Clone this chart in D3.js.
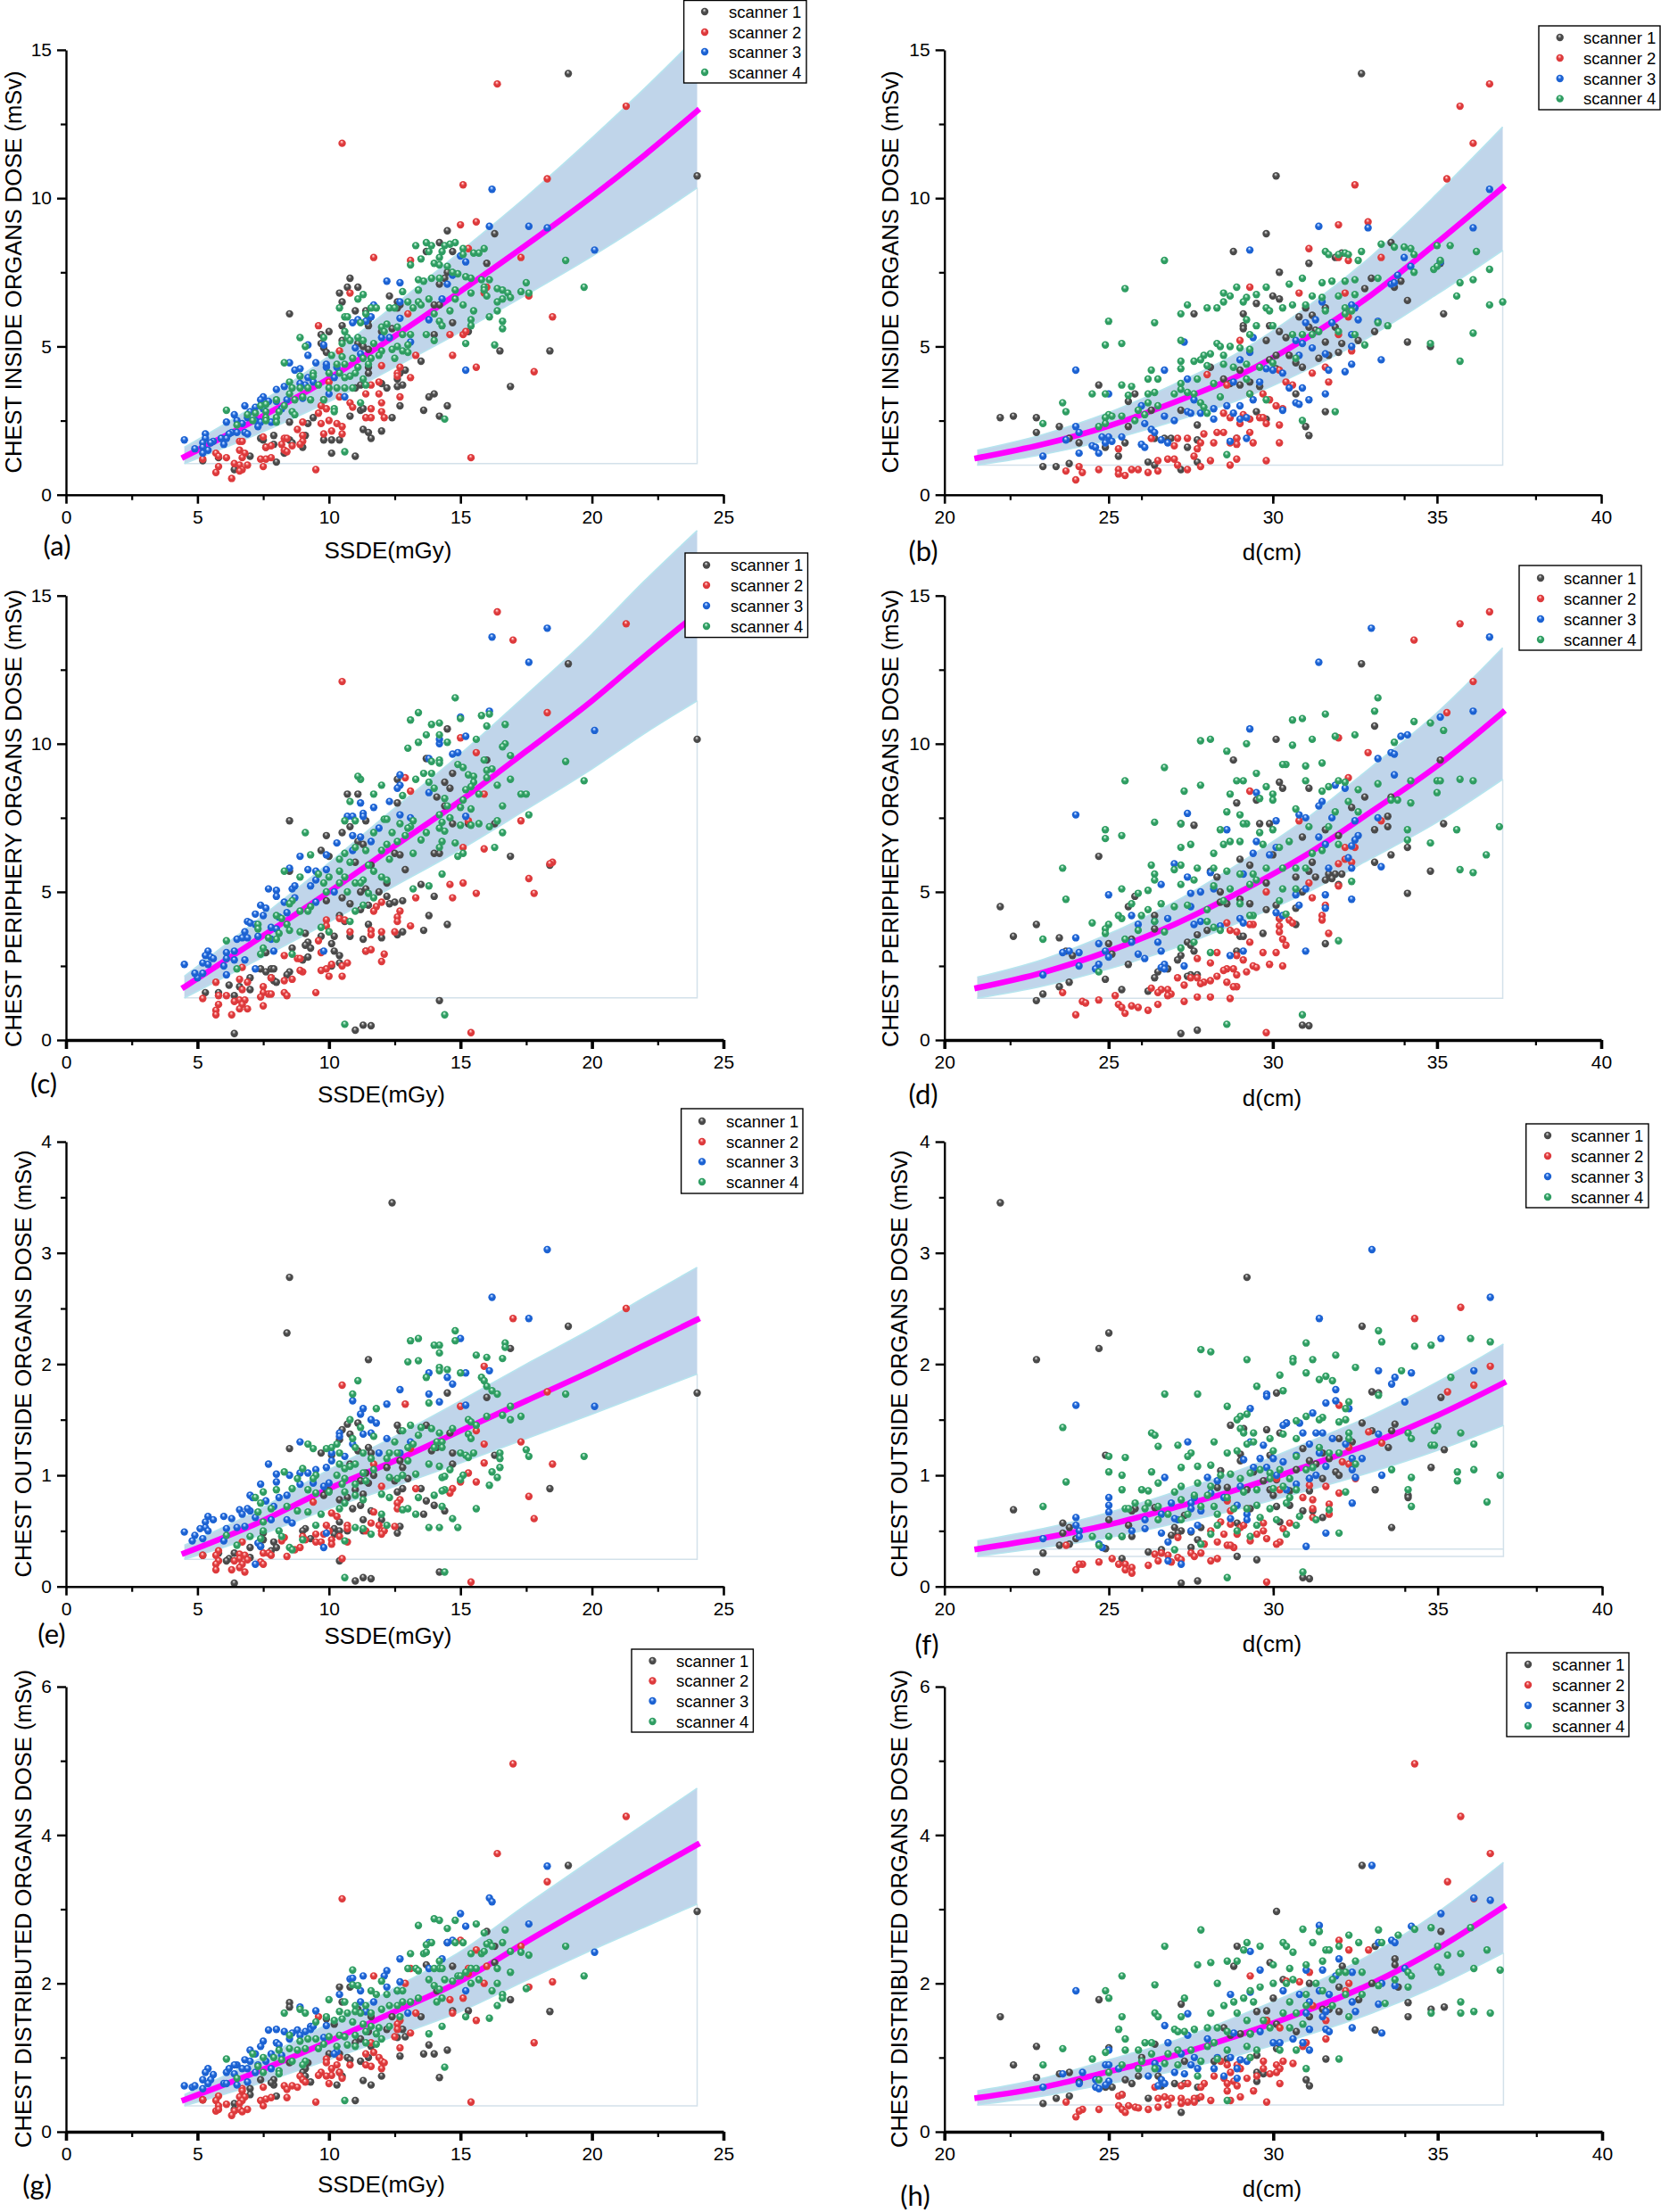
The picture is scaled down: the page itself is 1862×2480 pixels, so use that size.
<!DOCTYPE html>
<html>
<head>
<meta charset="utf-8">
<script src="https://cdnjs.cloudflare.com/ajax/libs/d3/7.8.5/d3.min.js"></script>
<style>
html,body{margin:0;padding:0;background:#fff}
svg{display:block}
text{font-family:"Liberation Sans",Arial,sans-serif;fill:#000}
</style>
</head>
<body>
<svg></svg>
<script>
let scanners = ["scanner 1","scanner 2","scanner 3","scanner 4"]
let scannerColors = [["#a8a8a8","#4a4a4a"],["#ff9c9c","#dd3a3c"],["#8fbcff","#1c62d2"],["#9fe0bc","#2f9d62"]]

// fit nodes
let xNodesS = [4.5,7,10,12.5,15,17.5,20,22,24]
let xNodesD = [21,23,25,27,29,31,33,35,37]

let aLine = [1.28,2.42,3.92,5.35,6.86,8.42,10.05,11.45,12.94]
let aUp = [1.6,2.9,4.68,6.4,8.2,10.05,12.03,13.7,15.45]
let aLow = [1.05,1.94,3.14,4.3,5.49,6.74,8.04,9.16,10.35]
let bLine = [1.24,1.7,2.32,3.12,4.04,5.27,6.74,8.5,10.36]
let bUp = [1.5,2.03,2.77,3.73,4.83,6.3,8.05,10.15,12.4]
let bLow = [1,1.36,1.85,2.48,3.21,4.19,5.36,6.76,8.24]
let cLine = [1.79,3.23,5,6.55,8.08,9.75,11.45,12.95,14.4]
let cUp = [2.15,3.86,5.98,7.83,9.66,11.65,13.7,15.5,17.2]
let cLow = [1.42,2.57,3.98,5.2,6.43,7.78,9.15,10.35,11.45]
let dLine = [1.76,2.28,3,3.9,5,6.24,7.71,9.25,11.06]
let dUp = [2.12,2.72,3.58,4.66,5.98,7.46,9.22,11.05,13.24]
let dLow = [1.41,1.82,2.4,3.1,3.98,4.96,6.13,7.35,8.8]
let eLine = [.3,.54,.88,1.13,1.4,1.67,1.94,2.17,2.4]
let eUp = [.37,.65,1.05,1.35,1.67,2,2.32,2.6,2.87]
let eLow = [.245,.43,.7,.9,1.11,1.33,1.55,1.73,1.91]
let fLine = [.337,.435,.556,.71,.88,1.08,1.29,1.54,1.83]
let fUp = [.41,.52,.665,.85,1.05,1.29,1.54,1.84,2.18]
let fLow = [.27,.35,.44,.565,.7,.86,1.03,1.225,1.45]
let gLine = [.43,.77,1.22,1.62,2.03,2.56,3.07,3.47,3.87]
let gUp = [.5,.92,1.46,1.94,2.43,3.06,3.67,4.15,4.63]
let gLow = [.35,.61,.97,1.29,1.62,2.04,2.45,2.76,3.07]
let hLine = [.457,.6,.81,1.03,1.31,1.63,2,2.47,3.03]
let hUp = [.55,.72,.97,1.23,1.57,1.95,2.4,2.96,3.63]
let hLow = [.36,.48,.65,.82,1.04,1.3,1.6,1.97,2.41]

// panel a
let aS1 = [[19.1,14.2],[24,10.75],[16.3,8.8],[14.5,8.9],[14.2,8.5],[13.7,8.2],[14.7,8.2],[16,7.8],[14.5,7.5],[14.4,7.3],[14.2,7.1],[10.8,7.3],[10.7,7],[11.1,7],[10.4,6.8],[10.5,6.5],[12.3,6.7],[12.6,6.5],[12.7,6.4],[12.6,6.3],[14,6.4],[14.2,6.4],[11.4,6.2],[11.5,6],[11,6.2],[8.5,6.1],[11.5,5.7],[11.5,5.9],[12.4,5.6],[14.7,5.8],[10.5,5.7],[10,5.5],[9.7,5.4],[12,5.5],[15.3,5.5],[14,5.4],[10.5,5.2],[9.7,5.1],[9.8,4.95],[11.1,5.1],[11.3,5],[11.5,4.9],[16.5,4.85],[18.4,4.85],[9.9,4.8],[13.5,4.5],[11.5,4.3],[11.5,4.1],[12.9,4.2],[12.7,4.1],[12.6,3.9],[12.8,3.7],[12.6,3.65],[12.2,3.6],[12,3.75],[16.9,3.65],[11,3.6],[11.2,3.7],[14,3.4],[13.8,3.3],[14.5,3],[12.7,3],[13.6,2.85],[11.2,2.85],[11.3,2.9],[14.2,2.65],[12.4,2.6],[10.8,2.65],[9.4,2.6],[8.5,2.45],[9.2,2.4],[11.3,2.2],[11.5,2.1],[12,2.15],[11.6,1.9],[9.1,2],[7.9,2],[7.4,1.9],[7.5,1.85],[7.9,1.7],[8.5,1.85],[8.6,1.75],[9.8,1.85],[10.1,1.85],[10.4,1.85],[9,1.6],[7.6,1.6],[8.3,1.4],[10.1,1.4],[11,1.3],[7,1.3],[5.8,1.25],[5.2,1.15],[8,1.1],[6.4,.85]]
let aS2 = [[16.4,13.85],[21.3,13.1],[10.5,11.85],[18.3,10.65],[15.1,10.45],[15.6,9.2],[15,9.1],[15.3,8.3],[11.7,8],[13.1,7.9],[17.3,8],[16,7],[10.8,6.8],[15.9,6.8],[17.6,6.7],[13,6.1],[18.5,6],[9.6,5.7],[15.1,5.4],[14.6,5.4],[15.2,5.5],[10.4,4.85],[13.3,4.7],[14.7,4.7],[12.7,4.3],[15.6,4.3],[12,4.35],[17.8,4.15],[12.6,4.1],[12.6,4],[13.1,3.95],[10,3.8],[11.6,3.7],[11.9,3.8],[11.4,3.4],[11.9,3.4],[12.7,3.3],[10.4,3.3],[9.8,3.2],[10.8,3.1],[12,3.1],[9.7,3],[10.9,2.95],[9.9,2.9],[11.6,2.9],[12,2.8],[9.6,2.75],[10,2.5],[11.4,2.6],[11.6,2.6],[12.1,2.6],[9,2.45],[9.7,2.4],[10.3,2.4],[10.5,2.3],[10.1,2.15],[9.8,2.05],[10.5,2.05],[8.8,2.2],[9,2],[8.3,1.9],[8.4,1.9],[7.5,1.95],[9,1.8],[8.9,1.7],[8.2,1.7],[8.6,1.65],[8.3,1.5],[7.8,1.65],[7.6,1.6],[6.6,1.8],[6.7,1.8],[6.6,1.5],[6.8,1.4],[8.4,1.45],[5.7,1.4],[5.8,1.3],[6.1,1.25],[5.2,1.2],[6.7,1.25],[7.4,1.2],[7.6,1.2],[7.8,1.25],[15.4,1.25],[5.8,.95],[6.4,1.05],[6.6,1],[6.9,1],[7.5,.95],[9.5,.85],[6.7,.85],[5.7,.75],[6.3,.55],[6.6,.8]]
let aS3 = [[16.2,10.3],[16.1,9.05],[17.6,9.05],[18.3,9],[20.1,8.25],[15,8.05],[15.2,7.85],[14.5,7.1],[12.2,7.2],[12.7,7.15],[14.7,7.4],[14.3,6.6],[12.7,6.5],[11.7,6.4],[11.1,5.9],[11.6,6],[12.7,5.95],[13.8,5.9],[10.9,5.8],[11.4,5.85],[12,5.3],[12.3,5.3],[13.1,5.15],[9.2,5.05],[9.8,5.05],[11,4.95],[9.2,4.7],[11.2,4.75],[8.5,4.45],[9.5,4.45],[9.9,4.3],[9.9,4.4],[8.9,4.25],[8.7,4.2],[10.3,4.3],[15.2,4.2],[10.2,3.95],[9.2,3.95],[9.4,3.8],[9.1,3.7],[8.9,3.75],[8.3,3.65],[8,3.55],[10,3.4],[10.6,3.3],[9,3.25],[8.4,3.2],[8,3.15],[7.5,3.3],[7.4,3.2],[7.7,3.15],[6.8,3],[7.2,2.95],[7.5,2.9],[8.2,2.9],[7,2.8],[6.4,2.7],[6.9,2.6],[7.2,2.5],[7.4,2.45],[7.8,2.45],[6.5,2.5],[6.1,2.45],[6.7,2.4],[7.3,2.3],[6.3,2.1],[6.5,2.1],[6.8,2.1],[6.9,2.05],[6.2,2.05],[5.9,1.9],[6.1,1.9],[5.3,2.05],[5.3,1.9],[5.6,1.8],[5.5,1.75],[4.5,1.85],[5.2,1.75],[4.9,1.55],[6,1.7],[5.2,1.6],[5.4,1.5],[5.2,1.4]]
let aS4 = [[19,7.9],[19.7,7],[17.5,7.15],[17.6,6.8],[17.3,6.85],[16.4,6.95],[16.6,6.9],[16.8,6.8],[16.9,6.65],[16.6,6.6],[16.4,6.5],[16.1,7.25],[15.8,7.25],[15.4,7.3],[15.2,7.35],[14.9,7.45],[14.7,7.5],[14.2,7.3],[13.9,7.3],[13.4,7.25],[13.6,7.2],[13.1,7.75],[14,7.8],[14.2,7.75],[14.5,7.7],[13.5,7.95],[14.2,8],[14.3,8.2],[13.8,8.2],[15.9,8.3],[15.5,8.15],[15.7,8.15],[15.1,8.3],[15.1,8.1],[13.3,8.4],[13.7,8.5],[13.9,8.4],[14.4,8.4],[14.6,8.45],[14.8,8.5],[15.9,7],[15.9,6.9],[16,6.7],[15.4,6.8],[14.8,6.9],[14.8,6.6],[15.1,6.4],[14.6,6.2],[15.5,6.2],[15.4,5.9],[15.4,5.7],[16.1,6],[16.6,5.85],[16.6,5.6],[16.4,6.2],[15.2,5.1],[16.3,5.05],[13.4,6.9],[13.8,6.6],[13.4,6.5],[13,6.5],[13.2,6.3],[13.5,6.4],[12.8,6.85],[12.3,6.3],[12.5,6.3],[14,6.1],[14.2,5.85],[14.3,5.7],[13.7,5.4],[14,5.2],[13.1,5.4],[12.8,5.4],[11.1,6.6],[11.3,6.75],[10.4,6.3],[11.6,6.3],[11.8,6.3],[11.4,6.1],[10.6,6],[10.7,6],[11.2,5.8],[12.2,5.75],[12.6,5.65],[12,5.65],[12.1,5.5],[8.9,5.3],[9.1,5],[9.8,5.3],[10.6,5.5],[10.7,5.3],[10.5,5.1],[10.8,5.2],[11.1,5.3],[11.3,5.2],[11.7,5.1],[12.6,5],[13,5.05],[12.4,4.9],[12,4.85],[12.8,4.85],[13,4.8],[11.9,4.7],[11.6,4.6],[11.3,4.6],[12.5,4.6],[10.1,4.7],[10.5,4.65],[10.9,4.6],[10.3,4.4],[10.6,4.4],[11.1,4.3],[11.5,4.4],[8.3,4.45],[9.4,4.1],[8.9,4],[8.5,3.8],[9.4,4],[10,4.1],[10.4,4.1],[10.6,3.95],[10.8,4],[11,4.1],[11.3,3.9],[11.4,3.7],[10.9,3.6],[10.6,3.6],[10.3,3.6],[10,3.6],[9.6,3.7],[9.2,3.6],[8.9,3.6],[8.6,3.6],[8.5,3.4],[8.7,3.2],[9,3.3],[9.3,3.2],[9.8,3.2],[10.2,2.9],[11.2,3.1],[8.3,3],[8,3.2],[7.6,3.05],[7.4,3],[7.6,2.8],[7.2,2.75],[7.6,2.6],[6.9,2.7],[7.1,2.5],[8.1,2.8],[8,2.6],[8,2.45],[8.6,2.8],[8.7,2.7],[6.1,2.85],[6.5,2.35],[7.6,2.5],[10.2,2.8],[14.4,2.55],[10.6,1.45]]

// panel b
let bS1 = [[32.7,14.2],[30.1,10.75],[29.8,8.8],[28.8,8.2],[33.6,8.5],[32.1,8.15],[31.9,8],[31.1,7.8],[30.2,7.5],[33,7.3],[33.9,7.2],[33.7,7],[32.8,6.95],[35.1,7.8],[34.1,6.55],[30,6.7],[30.2,6.6],[29.5,6.45],[31,6.3],[31.6,6.3],[29.1,6.1],[27.6,6.1],[35.2,6.1],[30.8,6],[31.2,6.05],[29.1,5.7],[29.1,5.6],[29.9,5.7],[31.1,5.65],[31.3,5.55],[31.9,5.65],[33.1,5.5],[29.8,5.2],[30.2,5.5],[30.4,5.3],[31.6,5.15],[32.1,5.1],[32.6,5.2],[34.1,5.15],[34.8,5],[30.1,4.7],[30.5,4.7],[31.4,4.6],[31.7,4.7],[32,4.8],[29.9,4.55],[30.7,4.45],[30.9,4.3],[28.1,4.3],[29,4.2],[30.1,4.25],[28.5,3.9],[28.7,3.75],[29,3.7],[29.3,3.8],[29.6,3.65],[24.7,3.7],[25.8,3.4],[25.6,3.15],[26.3,2.85],[27.2,2.85],[29.5,2.8],[31.6,2.8],[30.7,3.4],[29.8,2.55],[31,2.3],[21.7,2.6],[22.1,2.65],[22.8,2.6],[27.7,2.35],[25.6,2.3],[23.5,2.3],[22.8,2.1],[23.8,1.9],[24.1,1.75],[24.9,1.6],[25.3,1.3],[25.5,1.75],[26.4,1.9],[26.7,1.9],[26.9,1.9],[27.7,1.85],[28.9,1.9],[31.1,2],[26.2,1.1],[26.4,1],[27.4,1.6],[27.7,1.1],[23.8,1.05],[23,.95],[23.4,.95],[27.2,.85]]
let bS2 = [[36.6,13.85],[35.7,13.1],[36.1,11.85],[35.3,10.65],[32.5,10.45],[32.9,9.2],[32,9.1],[31.1,8.3],[33.3,8],[32,8],[32.3,7.9],[29.3,7],[30.8,6.8],[32.2,6.8],[32.3,6],[32,5.4],[29,5.2],[32.4,4.85],[31.6,4.3],[30.2,4.2],[31.2,4.1],[28,4.05],[28.6,3.7],[31.7,3.8],[30.4,3.8],[30.6,3.7],[29.3,3.4],[29.7,3.4],[29.9,3.2],[30.1,3],[30.3,2.9],[29.1,2.7],[29.3,2.55],[29.6,2.6],[28.5,2.75],[28.7,2.6],[29.7,2.6],[29,2.4],[29.8,2.4],[30.2,2.35],[28.5,2.1],[28.3,2.1],[27.9,2.05],[29.3,2.1],[28.9,1.9],[27.4,1.9],[26.3,1.9],[27.1,1.9],[27.8,1.75],[28.2,1.75],[28.7,1.75],[28.9,1.7],[29.4,1.75],[30.2,1.75],[27,1.65],[27.7,1.55],[25.3,1.55],[27.6,1.3],[28.1,1.15],[28.9,1.2],[29.8,1.15],[26.5,1.15],[26.8,1.2],[27,1.2],[27.4,.85],[27.1,1],[27.8,.95],[28.7,1],[24.1,.95],[24.7,.85],[25.3,.85],[25.7,.85],[25.9,.85],[23.7,.8],[24.2,.75],[25.3,.7],[25.5,.65],[26.2,.75],[26.5,.8],[24,.5]]
let bS3 = [[36.6,10.3],[31.4,9.05],[36.1,9],[32.9,9],[29.3,8.25],[34,8],[35.1,7.85],[34.2,7.7],[33.8,7.4],[33.6,7.1],[33.7,7.15],[31.5,6.5],[32.5,6.3],[32.4,6.4],[31,5.8],[31.3,5.9],[32.6,5.9],[33.2,5.85],[31.8,5.8],[32.4,5.4],[30.7,5.2],[30.9,5.1],[29.4,5.3],[27.3,5.15],[31.2,4.95],[32.4,5],[29.3,4.8],[30.8,4.7],[31.6,4.75],[26.7,4.2],[24,4.2],[29,4.55],[29.8,4.25],[30,4.2],[30.3,4.1],[31.7,4.2],[32.2,4.15],[32.4,4.4],[33.3,4.55],[27.4,3.9],[28.8,3.8],[29.6,3.8],[30.5,3.6],[30.9,3.6],[31.6,3.4],[25,3.4],[27.6,3.2],[28.2,2.9],[28.6,3],[29,3],[29.4,3.2],[30.7,3.1],[31.1,3.2],[30.8,3.05],[26,3],[27.4,2.8],[27.8,2.75],[28.8,2.75],[29.2,2.6],[29,2.55],[30.3,2.85],[26.7,2.65],[27.5,2.75],[28.2,2.55],[27,2.5],[26.1,2.4],[26.3,2.2],[26.4,2.1],[24,2.3],[24.1,2.1],[24.8,1.95],[25,1.95],[25.1,1.8],[25.4,1.95],[24.5,1.65],[24.9,1.75],[26.6,1.85],[26.8,1.75],[28.7,1.8],[29.2,1.9],[26,1.7],[24.6,1.6],[24.7,1.4],[26.1,1.6],[23.7,1.85],[24.1,1.4],[23,1.3]]
let bS4 = [[26.7,7.9],[25.5,6.95],[37,6.5],[36.6,6.4],[36.1,5.45],[35.7,4.5],[34.8,5.1],[35.6,6.7],[35.7,7.15],[36.6,7.6],[36.1,7.25],[36.2,8.2],[35.4,8.4],[35,8.4],[34.3,7.5],[34.9,7.6],[35,7.7],[35.1,7.9],[34.2,8.3],[34.3,8.1],[34,8.35],[33.3,8.45],[33.7,8.35],[32.7,8.2],[32.2,8.15],[31.6,8.2],[31.7,8.1],[32,8.1],[32.3,8.1],[32.6,7.9],[33.2,7.3],[32.5,7.25],[32.2,7.2],[31.8,7.2],[31.5,7.15],[30.9,7.3],[30.5,7.1],[29.8,7],[28.9,7],[28.5,6.8],[28.7,6.7],[29.2,6.65],[29.5,6.75],[28.5,6.5],[29.1,6.5],[29.8,6.3],[29.9,6.2],[30.3,6.3],[30.6,6.4],[31,6.4],[31.2,6.7],[31.5,6.65],[31.6,6.2],[32,6.7],[32.2,6.3],[32.5,6.75],[32.4,6.2],[32.2,6.1],[33.2,5.8],[33.5,5.7],[32.5,5.4],[32.8,5.05],[27.2,6.1],[27.4,6.4],[28,6.3],[28.3,6.3],[29.2,5.9],[29.5,5.7],[29.3,5.4],[30,5.7],[30.6,5.4],[30.9,5.4],[31.2,5.4],[31.4,5.5],[32,5.5],[26.4,5.8],[25,5.85],[27.2,5.2],[25.4,5.1],[24.9,5.05],[28.3,5.1],[28.4,5],[28.7,5],[29,4.95],[29.3,4.9],[28.5,4.7],[28.1,4.75],[27.9,4.7],[27.6,4.5],[27.8,4.55],[27.2,4.5],[27.2,4.25],[28,4.35],[28.5,4.4],[28.8,4.3],[29.2,4.4],[29.6,4.3],[30,4.45],[30.7,4.6],[26.2,3.9],[26.5,3.9],[26.3,4.2],[27.7,3.9],[28.2,3.75],[29.2,3.9],[27.2,3.75],[27.2,3.55],[27.4,3.45],[27,3.4],[26.4,3.45],[26.2,3.4],[25.7,3.65],[25.4,3.7],[25.6,3.35],[24.9,3.4],[24.5,3.4],[27.6,3.4],[28.4,3.3],[29.3,3.4],[29.8,3.2],[27.8,3.1],[27.9,2.95],[28,2.75],[26.2,3.1],[26.5,3],[25.9,2.85],[26.1,2.7],[25.8,2.5],[25,2.7],[24.9,2.6],[25.1,2.65],[25.4,2.65],[23.6,3.1],[23.7,2.8],[23,2.4],[24.7,2.3],[24.9,2.4],[31.9,2.8],[30.9,2.5],[28.6,1.35]]

// panel c
let cS1 = [[19.1,12.7],[24,10.15],[14.5,10.5],[13.7,9.5],[16,9.45],[14.7,9],[14.4,8.7],[14.6,8.5],[14.1,8.2],[10.7,8.3],[11.1,8.3],[12.6,8],[12.6,8.8],[14.4,7.9],[14.7,7.3],[15.3,7.3],[16.3,7.3],[8.5,7.4],[11.4,7.4],[10.8,7.2],[10.5,7],[9.9,6.9],[11.1,6.7],[11.3,6.6],[9.7,6.4],[14,6.3],[14.2,6.3],[12.5,6.3],[12.7,6.25],[16.9,6.2],[18.4,5.9],[12.9,5.75],[10,6.2],[11,6],[11.6,5.9],[8.5,5.7],[12.2,5.3],[11.9,5],[11.4,5.1],[11.2,5],[13.5,5.25],[14,4.85],[12.2,4.85],[12.8,4.7],[12.5,4.65],[12.3,4.6],[9.9,4.7],[10.5,4.8],[10.8,4.6],[11.5,4.55],[11.2,4.4],[13.8,4.2],[10.4,4.2],[10.6,4],[11.5,3.9],[14.5,3.9],[13.6,3.7],[12.6,3.55],[12.8,3.65],[9.1,3.6],[9.7,3.5],[10.2,3.5],[10.8,3.5],[11.3,3.4],[12,3.45],[9.2,3.3],[9.1,3.2],[9.3,3.1],[10.1,3.25],[10.2,3],[8.6,3.1],[7.6,2.95],[10.4,2.85],[11.4,3],[9.2,2.8],[9,2.7],[10.1,2.5],[10.4,2.6],[7.4,2.4],[7.8,2.4],[7.9,2.4],[7.6,2.3],[8.5,2.3],[8.4,2.2],[7.8,2.1],[7.9,2],[8,1.95],[7,2.1],[6.2,1.85],[6.6,1.8],[7,1.7],[5.8,1.6],[5.3,1.6],[6.4,1.5],[14.2,1.33],[11.3,.5],[11.6,.48],[11,.33],[6.4,.22]]
let cS2 = [[16.4,14.45],[21.3,14.05],[17,13.5],[10.5,12.1],[18.3,11.05],[15,10.2],[15.6,9.7],[12.9,8.85],[13.1,8.4],[15.9,8.3],[15.3,7.4],[17.3,7.4],[18.5,6],[18.4,5.95],[15.1,6.5],[15.9,6.45],[17.6,5.45],[14.6,5.25],[15.1,5.3],[17.8,4.95],[15.6,4.95],[13.3,4.8],[14.7,4.8],[12,4.65],[11.8,4.5],[11.7,4.35],[12.7,4.35],[12.6,4.15],[12.6,4],[13.1,3.85],[10.4,4.1],[10.6,4.05],[9.9,4.05],[9.9,3.85],[10,3.65],[10.8,3.65],[11.6,3.7],[11.6,3.55],[12,3.65],[12.5,3.65],[9.6,3.35],[11.4,3],[11.6,3.05],[12.1,2.9],[8.3,2.85],[8.8,2.75],[8.9,2.75],[9.7,2.95],[10.5,2.5],[10.7,2.6],[12,2.65],[10.1,2.55],[9.9,2.4],[9.7,2.35],[10,2.15],[10.5,2.15],[9,2.3],[8.9,2.35],[6.7,2.45],[7.8,2.1],[8.3,2],[8.6,2.05],[6.6,2.05],[6.9,1.95],[5.7,1.95],[7.5,1.8],[6.7,1.7],[8.3,1.6],[7.5,1.6],[7.7,1.55],[7.8,1.55],[5.8,1.5],[6.1,1.5],[8.4,1.5],[9.5,1.6],[7.4,1.45],[5.2,1.4],[6.6,1.35],[6.8,1.35],[6.4,1.3],[6.7,1.2],[5.8,1.2],[7.5,1.15],[6.6,1.05],[6.9,1.05],[5.7,1],[5.7,.85],[6.3,.85],[15.4,.25]]
let cS3 = [[18.3,13.9],[16.2,13.6],[17.6,12.75],[16.1,11.1],[15,10.9],[20.1,10.45],[15.2,10.25],[14.2,10],[14.2,10.15],[14.7,9.65],[14.9,9.7],[13.8,9.5],[12.7,8.95],[12.7,8.6],[12.6,8.5],[13.8,8.35],[11.2,8],[11.3,7.65],[11.3,7.55],[11.7,7.85],[12.3,8.05],[10.7,7.55],[10.9,7.55],[12.7,7.6],[13.1,7.5],[15.2,7.55],[11.9,7.15],[10.9,6.9],[11.2,6.85],[11.6,6.7],[10.3,6.65],[10.9,6.4],[9.9,6.25],[8.9,6.2],[8.5,5.8],[9.2,5.75],[9.5,5.7],[9.9,5.75],[9.5,5.4],[8.6,5.1],[8.7,5.2],[9.3,5.2],[10.2,5],[7.7,5.1],[8,5.05],[8,4.85],[8.7,4.8],[9.5,4.65],[8.3,4.65],[8.4,4.3],[7.4,4.55],[7.6,4.45],[7.2,4.25],[7.5,4.2],[8.1,4.15],[6.9,4],[7,3.95],[7.2,3.9],[7.8,3.8],[8,3.75],[6.8,3.65],[6.7,3.45],[6.9,3.45],[6.5,3.4],[7.3,3.5],[7.8,3.4],[7.9,3],[6.1,2.95],[6.4,3],[5.4,3],[5.3,2.85],[5.5,2.8],[5.6,2.75],[6.1,2.75],[6.4,2.7],[6.8,2.7],[5.2,2.6],[5.4,2.55],[4.5,2.55],[6,2.5],[7.2,2.4],[9.8,3],[5,2.1],[6.1,2.2],[4.9,2.25],[5.2,2.25]]
let cS4 = [[14.8,11.55],[16.1,11],[15,10.85],[15.8,10.95],[13.4,11.05],[13.1,10.8],[16,10.6],[16.7,10.65],[13.9,10.65],[14.2,10.7],[13.7,10.3],[13.4,10.05],[14.2,10.3],[14.5,10.05],[15.6,10.15],[16.7,10],[16.6,9.9],[13,9.85],[16.9,9.6],[14.9,9.3],[15.9,9.45],[14.2,9.45],[14.2,9.35],[13.9,9.4],[19,9.4],[19.7,8.75],[17.5,8.3],[17.6,7.6],[17.3,8.3],[16.9,8.8],[16.4,8.6],[16.6,7.9],[16.4,7.4],[16.6,7],[16.3,6.5],[16,9.1],[16.2,9.15],[15.1,9.2],[15.3,8.95],[15.5,8.9],[15.5,8.7],[15.4,8.55],[15.2,8.45],[15.7,8.3],[15.4,7.8],[15.1,8.1],[15,7.85],[16,8.85],[13.9,9],[13.3,8.8],[13.6,9],[14,8.5],[13.8,8.7],[14.4,8.15],[14.5,7.9],[14.6,7.5],[14.2,7.6],[14.3,7.35],[14.2,7.15],[14.4,7.05],[15,7.25],[15.4,7.25],[15.7,7.3],[16.1,7.2],[15.1,6.3],[14.8,6.65],[14.9,6.2],[14.2,6.5],[14.3,6.7],[13.5,6.75],[13.7,7],[13.2,7.4],[13.1,7.2],[13.2,6.3],[14.3,5.6],[13.8,5.2],[13.2,5.1],[12,8.6],[12.8,8.25],[11.2,8.8],[11.1,8.9],[11.7,8.3],[10.8,8.05],[10.6,7.4],[11,7.4],[11.7,7],[12.1,7.45],[12.2,7.45],[12.7,7.3],[13,7.15],[12.4,7],[12.9,6.9],[12.2,6.6],[12.6,6.7],[12,6.4],[12.3,6.1],[11.4,6.4],[11,6.5],[10.6,6.3],[10.4,6.1],[10.8,6],[11.5,5.9],[11.7,5.7],[12,5.5],[12.2,5.4],[10.4,5.7],[10.6,5.5],[11,5.3],[11.3,5.4],[9.1,7],[9.3,6.25],[8.3,5.7],[8.9,5.5],[9.6,5.6],[9.8,5.3],[10,5.5],[10.4,5.3],[10.7,5],[11.2,5.3],[11.5,4.95],[11.7,4.8],[11.3,4.55],[11,4.35],[9.3,4.5],[8.6,4.7],[8.9,4.35],[9.2,4.35],[8.5,4.6],[9.9,5],[8,4.2],[8.2,4.1],[8.4,3.9],[7.3,3.9],[7.3,3.75],[8.1,3.6],[7.7,3.45],[8,3.4],[7.5,3.1],[7.4,2.9],[8.5,3.7],[8.9,3.65],[9.7,3.8],[10,3.65],[10.8,4],[6.1,3.35],[6.5,2.4],[8.6,2.9],[14.4,.85],[10.6,.53]]

// panel d
let dS1 = [[32.7,12.7],[33.1,10.6],[30.1,10.15],[28.8,9.45],[30.2,8.7],[30.3,8.5],[31.1,8.5],[32.8,8.2],[28.9,8],[29.5,8.1],[32.4,7.85],[33.6,8.2],[33.5,7.55],[33.5,7.2],[35.1,9.45],[35.2,7.3],[33.1,7.1],[27.2,7.3],[27.6,7.25],[29.6,7.3],[29.9,7.3],[31.6,7.1],[32,6.9],[30.9,6.85],[34.1,6.5],[33.6,6.25],[24.7,6.2],[30,6.25],[29,6.1],[29.3,5.9],[31.2,6],[33.1,6],[31.1,5.7],[34.8,5.7],[31.7,5.6],[31.9,5.6],[32.1,5.6],[28.1,5.7],[28.3,5.5],[30.7,5.5],[31.3,5.5],[31.6,5.4],[32,5.25],[31.8,5.45],[29.8,5.3],[28.4,5],[30.9,5],[34.1,4.95],[25.8,4.85],[28.4,4.65],[28.6,4.6],[29,4.75],[29.3,4.6],[29.8,4.4],[30.1,4.55],[30.7,4.45],[21.7,4.5],[25.6,4.5],[26.4,4.2],[30.2,4.1],[30.7,3.9],[22.8,3.9],[29.7,3.6],[27.7,3.55],[28,3.7],[29,3.5],[29.1,3.5],[22.1,3.5],[23.5,3.45],[25.7,3.4],[26.4,3.75],[27.4,3.3],[27.5,3.2],[27.6,3],[28.9,3],[31.6,3.25],[23.7,3],[23.9,2.85],[25.1,2.9],[25,3.25],[25.6,2.55],[27.2,2.85],[27.1,2.7],[26.8,2.4],[26.5,2.3],[26.4,2.1],[27.5,2.2],[27.7,2.2],[27.4,2.15],[24.9,2.05],[23.5,1.8],[23.8,1.95],[25.4,1.7],[26.2,1.65],[23,1.55],[22.8,1.33],[30.9,.5],[31.1,.48],[27.7,.33],[27.2,.22]]
let dS2 = [[36.6,14.45],[35.7,14.05],[34.3,13.5],[36.1,12.1],[35.3,11.05],[32,10.2],[32.9,9.7],[32.3,8.85],[29.3,8.4],[33.3,7.4],[30.8,7.4],[32.2,6.5],[32.5,6.5],[32.2,6.1],[32.4,6],[32,5.95],[31.1,5.3],[32,5.2],[29.8,5],[31.2,4.8],[31.6,4.55],[30.2,4.1],[30.5,4.05],[31.5,4.2],[31.5,4.05],[30.6,3.95],[30.2,3.85],[29.4,3.9],[29.3,3.9],[28.6,3.95],[28.7,3.7],[28.9,3.65],[31.7,3.6],[30.3,3.4],[30.2,3.65],[30.4,3.2],[29.3,3.3],[29.7,2.95],[28.3,2.95],[30.1,2.95],[28.9,2.85],[29.1,2.7],[27.7,2.75],[28.1,2.6],[29.4,2.5],[29.9,2.55],[30.3,2.5],[28.6,2.4],[28.8,2.4],[28.5,2.35],[29.5,2.45],[29.2,2.3],[28.9,2.2],[27.1,2.1],[27.5,2.1],[27.7,2.1],[28.3,2.15],[28.1,2],[27.9,1.95],[28.6,1.95],[27.3,1.85],[27.8,1.9],[28.9,1.8],[28.8,1.8],[26.3,1.75],[26.6,1.7],[26.8,1.7],[26.9,1.55],[26.5,1.6],[26.8,1.5],[23.6,1.6],[25.2,1.5],[28.7,1.4],[28.1,1.45],[27.7,1.45],[27.3,1.3],[24.7,1.35],[25.3,1.2],[25.4,1.1],[25.7,1.15],[25.9,1.1],[24.2,1.3],[24.3,1.25],[26.2,1],[26.5,1.2],[24,.85],[25.5,.9],[29.8,.25]]
let dS3 = [[33,13.9],[36.6,13.6],[31.4,12.75],[29.3,10.5],[36.1,11.1],[35.1,10.9],[34.1,10.3],[33.9,10.25],[33.6,9.7],[33.7,9.65],[33.2,9.5],[33.7,8.95],[24,7.6],[27.4,7.65],[31.5,8.05],[31.4,7.9],[31.9,8.6],[32.2,8.5],[30.8,7.6],[29.5,8.35],[30.1,7.4],[28.6,7.1],[31,7.5],[31.8,7.5],[32.5,7.4],[33.2,7.5],[29.5,6.7],[30.1,6.5],[31.6,6.6],[31.4,6.85],[32.6,6.9],[32.5,6.75],[32.4,6.55],[29.4,6.3],[29.9,6.25],[32.3,6.15],[33.3,5.85],[32.4,5.8],[31.7,5.8],[27,5.95],[27.4,5.5],[28.1,5.65],[29.1,5.6],[26.6,5.25],[25,4.9],[28.2,5.1],[27.5,4.95],[27.8,5],[31.6,4.9],[31,5.1],[32.4,4.75],[30.7,4.9],[30.8,4.55],[27.5,4.5],[26.8,4.1],[26.4,4],[25.7,4.2],[25.9,3.9],[27.8,4],[27.6,3.9],[28.4,3.85],[29,4.1],[29.1,3.95],[30.1,4.3],[30.3,4.2],[24,3.45],[25.7,3.3],[25.9,2.9],[26.1,2.75],[26.5,3.3],[26.6,3],[26.7,2.55],[26.6,2.45],[26.7,2.4],[24.7,3.25],[24.9,3],[25,2.8],[24.7,2.55],[23.6,2.95],[23.8,3],[24.1,2.95],[23,2.2],[24.6,2.4],[24.1,2.5],[27.3,2.5],[28.7,2.85],[29.1,3],[31,3],[31.6,4.45]]
let dS4 = [[33.2,11.55],[31.6,11],[33.1,11.1],[30.6,10.8],[30.9,10.85],[34.3,10.75],[34.8,10.7],[35.2,10.45],[32.5,10.3],[31.9,10.25],[31.2,10.15],[27.8,10.1],[28.1,10.15],[29.2,10],[30.6,9.95],[28.6,9.75],[33.7,10.05],[30.4,9.3],[30.3,9.3],[31,9.25],[31.5,9.35],[26.7,9.2],[29.5,9],[28.9,8.75],[29.1,8.75],[27.8,8.6],[25.5,8.75],[31,8.75],[32,8.75],[32.2,8.7],[31.7,8.55],[33.2,8.65],[34.2,8.75],[35,8.75],[35.1,8.75],[35.7,8.8],[36.1,8.75],[27.3,8.4],[28.7,8.3],[29.8,8.55],[30,8.3],[30,8.1],[29.6,8.15],[31.5,8.4],[32.3,8.05],[32.6,8.45],[33.8,8.1],[34.2,8],[35,8.35],[33.6,8.1],[28.6,7.7],[29,7.6],[30.7,7.8],[31.9,7.7],[32.6,7.7],[27.2,7.3],[26.4,7.35],[24.9,7.1],[24.9,6.8],[25.4,6.9],[28.4,7.1],[29.2,7.3],[29.1,7.3],[29.6,7],[30,7.1],[31.1,7.2],[31.7,7.2],[34.1,7.1],[34.1,6.75],[34.8,6.65],[35.6,7.1],[36.9,7.2],[36.5,6.25],[35.7,5.75],[36.1,5.65],[27.5,6.6],[27.2,6.5],[28.2,6.3],[28.5,6.6],[28.7,6.7],[29,6.7],[29.7,6.6],[30.2,6.5],[30.5,6.7],[31.2,6.3],[31.5,6.4],[32,6.6],[26.3,5.9],[26.4,5.6],[23.6,5.8],[27,5.75],[27.2,5.9],[27.7,5.8],[28.2,5.8],[28.6,5.7],[29,5.6],[29.4,5.6],[29.8,5.8],[30.3,5.8],[30.7,5.8],[31,5.8],[26.2,5.05],[26.4,5.4],[27.2,5.25],[27.6,5.4],[28.2,5.2],[28.7,5.1],[29.3,5.25],[29.5,5.4],[30.3,5.1],[30.7,5.1],[32.4,5.35],[25.4,5.1],[25.9,4.95],[25.7,4.6],[26.2,4.4],[26.6,4.6],[27,4.5],[27.4,4.55],[28,4.4],[28.5,4.7],[29,4.6],[29.4,4.2],[30.4,4.25],[30.2,4.7],[23.7,4.75],[24.5,3.95],[25.4,4.1],[25.3,4.2],[26,4.2],[24.9,3.75],[24.9,3.6],[25,3.9],[25.5,3.4],[25.9,3.7],[26.4,4],[26.7,3.65],[28,4],[28.4,3.7],[28.2,3.8],[29.3,4.2],[23,3.4],[27.2,3.1],[27.6,3.3],[28.1,2.95],[24.7,2.3],[32,3.35],[30.9,.85],[28.6,.53]]

// panel e
let eS1 = [[12.4,3.45],[8.5,2.78],[8.4,2.28],[19.1,2.34],[16.9,2.14],[11.5,2.04],[14.5,1.74],[16,1.7],[24,1.74],[13.7,1.45],[12.6,1.45],[11.1,1.47],[10.7,1.46],[10.5,1.41],[12.7,1.4],[14.6,1.38],[10.8,1.37],[14.1,1.25],[13.9,1.22],[8.5,1.24],[10.4,1.32],[11.5,1.25],[9.7,1.2],[11.1,1.22],[10.1,1.18],[14.7,1.2],[14.7,1.1],[16.3,1.18],[11.6,1.2],[12.2,1.07],[12.8,1.07],[12.7,1.13],[10.8,1.1],[11.4,1.02],[11.7,1],[12.5,.95],[13,.97],[9.9,.87],[10,.86],[11.2,.95],[11.5,.93],[12.8,.88],[12.6,.85],[11,.87],[11.3,.83],[13.5,.88],[18.4,.88],[10.7,.8],[9.8,.82],[10.4,.78],[10.9,.7],[11.2,.73],[11.6,.68],[14.4,.68],[13.7,.77],[14,.73],[13.6,.65],[11.3,.6],[12,.6],[10.4,.58],[9.1,.52],[9,.5],[10.2,.52],[10.4,.5],[10.7,.5],[12.7,.54],[12.6,.48],[11.3,.5],[10.2,.47],[9.3,.43],[7.5,.48],[7.5,.42],[7.9,.4],[7.4,.36],[8,.35],[7.8,.32],[7,.35],[7,.26],[6.4,.3],[6.2,.25],[6.1,.23],[5.2,.28],[5.8,.3],[10.4,.23],[14.2,.13],[11.3,.08],[11.6,.07],[11,.05],[6.4,.03]]
let eS2 = [[21.3,2.5],[17,2.41],[15.9,1.98],[10.5,1.81],[18.3,1.75],[15,1.62],[12.9,1.64],[15.6,1.4],[17.3,1.3],[15.9,1.28],[13.1,1.24],[18.5,1.1],[15.9,1.11],[15.3,1.02],[15.6,.94],[15,.94],[13.3,.88],[14.7,.88],[14.6,.84],[17.6,.81],[12,.9],[12.7,.78],[12.6,.75],[12.6,.7],[11.7,1.1],[11.7,.67],[11.6,.57],[11.9,.55],[10.1,.66],[10.3,.63],[17.8,.61],[9.4,.76],[9.9,.55],[10,.5],[10.7,.55],[10.7,.52],[12,.5],[12.1,.5],[12,.47],[12.5,.54],[11.4,.5],[9.5,.47],[9.8,.47],[9,.45],[9.1,.42],[10.4,.45],[10.1,.42],[9.5,.4],[9.7,.4],[10.1,.38],[10.7,.4],[8.3,.44],[8.2,.41],[6.7,.4],[8.9,.35],[8.7,.33],[8.4,.27],[7.7,.3],[7.8,.28],[7.5,.3],[7.4,.22],[7.5,.2],[6.6,.29],[6.8,.28],[6.6,.25],[6.9,.24],[6.4,.23],[6.7,.2],[5.8,.32],[5.7,.28],[5.8,.23],[5.7,.2],[5.7,.15],[6.6,.17],[6.3,.15],[6.8,.13],[10.5,.25],[5.2,.28],[15.4,.04]]
let eS3 = [[18.3,3.03],[16.2,2.6],[17.6,2.41],[15,2.23],[16.1,1.94],[15.2,1.92],[13.8,1.92],[14.5,1.88],[14.7,1.82],[12.7,1.77],[13.8,1.73],[14.2,1.66],[10.9,1.67],[12.2,1.64],[15.2,1.63],[11.3,1.6],[11.2,1.55],[11.6,1.5],[11.8,1.47],[20.1,1.62],[11.3,1.37],[10.4,1.38],[10.4,1.35],[11.6,1.38],[12.2,1.33],[8.9,1.3],[13.1,1.3],[10.9,1.28],[11.9,1.2],[12.7,1.2],[10.1,1.2],[10.6,1.17],[7.7,1.1],[10.1,1.13],[9.2,1.02],[9.9,1.07],[8.9,1.02],[8.5,1],[9.5,1.05],[8,1.01],[8,.94],[7.4,.92],[8.9,.92],[9.4,.93],[10,.93],[9.8,.9],[8.4,.82],[7,.82],[7.1,.8],[7.6,.77],[7.9,.72],[8.1,.8],[7,.68],[6.6,.69],[6.9,.7],[6.7,.65],[6,.63],[6.3,.61],[5.4,.63],[5.3,.58],[5.6,.6],[7.2,.62],[7.8,.6],[8.4,.6],[8.6,.57],[6.8,.54],[6.5,.53],[6.1,.52],[5.3,.53],[5.4,.5],[5.1,.52],[4.5,.49],[5.2,.43],[4.9,.46],[4.8,.41],[6,.41],[7.3,.39],[7.4,.36],[9.9,.48],[9.8,.35],[7.2,.2]]
let eS4 = [[14.8,2.3],[16.7,2.19],[13.4,2.23],[13.1,2.21],[14.8,2.21],[14,2.17],[14.2,2.17],[14.2,2.1],[16.7,2.15],[15.6,2.08],[16,2.06],[16.6,2.05],[13,2.02],[13.4,2.03],[14.2,1.97],[14.2,1.94],[14.5,1.95],[15,1.92],[13.7,1.88],[15.8,1.88],[15.9,1.85],[11.1,1.85],[16,1.8],[16.2,1.76],[16.4,1.73],[10.9,1.73],[19,1.73],[13.8,1.65],[11.8,1.6],[16.9,1.62],[16.6,1.54],[16,1.53],[17.3,1.53],[16.9,1.5],[10.8,1.5],[15.3,1.5],[15.4,1.48],[15.6,1.45],[13.5,1.43],[13.1,1.45],[13.9,1.42],[14.7,1.42],[14.2,1.38],[13.4,1.36],[15.3,1.37],[15.4,1.33],[11.2,1.43],[11.7,1.35],[12.8,1.4],[14.1,1.3],[14.3,1.3],[13,1.25],[13.2,1.28],[12.5,1.3],[14,1.25],[14.3,1.25],[9.2,1.28],[9.4,1.24],[9.9,1.24],[10.1,1.25],[10.3,1.28],[10.4,1.2],[10.9,1.33],[11,1.25],[11.3,1.2],[12.3,1.2],[12.6,1.2],[17.5,1.23],[17.6,1.17],[19.7,1.17],[16.5,1.2],[15,1.2],[15.2,1.18],[15.5,1.2],[15.3,1.16],[16.5,1.15],[11.6,1.15],[12.2,1.15],[13,1.13],[13.8,1.1],[16.5,1.07],[16.2,1.03],[16.4,.98],[14.2,1.08],[14.3,.98],[14.6,1.05],[14.4,.99],[15.1,1],[15,.96],[16.1,.91],[13.3,1.01],[12.8,1],[11,1.1],[10.8,1.08],[10.6,1.06],[10.4,1.1],[8.3,1.03],[9,1.06],[9.5,1],[9.4,.97],[8.8,.97],[10.3,1],[10.6,.97],[11.3,1.02],[11.7,1.05],[12.3,.98],[12.6,.97],[10.5,.92],[11,.92],[11.4,.95],[8,.87],[8.6,.88],[9.2,.87],[9.5,.84],[10,.85],[10.6,.85],[11,.82],[11.3,.78],[12,.83],[12.3,.8],[13.4,.8],[14,.82],[14.4,.87],[14.3,.86],[15.6,.7],[14.3,.72],[13,.7],[12.8,.69],[13.3,.65],[12,.65],[12.2,.55],[14.7,.61],[14.9,.53],[14.2,.53],[13.8,.53],[11,.53],[11.3,.52],[11.6,.47],[7.5,.85],[7.2,.8],[7.4,.75],[7.8,.7],[8.4,.72],[8.8,.68],[9.2,.67],[9.7,.65],[10.4,.7],[10.6,.75],[7.3,.67],[7.5,.58],[6.1,.46],[6.5,.37],[7,.45],[7.5,.5],[7.4,.43],[8.1,.5],[8.2,.45],[8.5,.35],[8.6,.33],[9.5,.55],[9,.42],[10.6,.41],[14.4,.13],[10.6,.08]]

// panel f
let fS1 = [[21.7,3.45],[29.2,2.78],[25,2.28],[24.7,2.14],[22.8,2.04],[32.7,2.34],[33.2,1.74],[33,1.75],[30.1,1.74],[35.1,1.7],[28.7,1.45],[29.1,1.42],[29.8,1.41],[32.7,1.47],[33.7,1.46],[33.6,1.4],[30.2,1.38],[30.4,1.47],[33,1.4],[33.5,1.25],[35.2,1.23],[32,1.33],[31.5,1.2],[31.7,1.15],[30.9,1.24],[29,1.19],[24.9,1.18],[29,1.13],[29.9,1.18],[31.1,1.13],[31.3,1.1],[32.4,1.3],[28.4,1.04],[30.7,1.05],[29.4,1.03],[31.9,1.03],[32,1],[34.8,1.07],[31.5,.97],[31.1,.97],[29.7,.95],[30.1,.96],[33.1,.87],[28.3,.89],[28.6,.89],[29.2,.87],[29.9,.87],[30,.82],[30.5,.86],[31.1,.86],[34.1,.82],[34.1,.8],[29.3,.7],[30.1,.72],[30.5,.73],[30.9,.68],[31.2,.68],[22.1,.69],[25.8,.7],[26.4,.71],[25.7,.68],[27.3,.64],[27,.53],[27.2,.5],[27.5,.49],[27.8,.53],[27.1,.48],[26.9,.46],[28.9,.57],[30.2,.58],[31.5,.62],[33.6,.53],[25,.6],[25.4,.45],[25.7,.45],[25.6,.55],[23.6,.57],[23.8,.53],[23.6,.48],[24,.43],[24.9,.34],[23.5,.37],[23.8,.38],[27.5,.35],[27.7,.42],[26.2,.31],[26.6,.33],[23,.3],[28.9,.27],[25.4,.25],[29.5,.24],[22.8,.13],[30.9,.08],[31.1,.07],[27.7,.05],[27.2,.03]]
let fS2 = [[35.7,2.51],[34.3,2.41],[36.6,1.98],[36.1,1.81],[35.3,1.75],[32,1.63],[32.9,1.39],[33.3,1.29],[32.3,1.25],[32.1,1.12],[32.3,1.1],[32.5,.97],[31.6,.9],[30.1,.97],[32,.84],[31.1,.91],[28.6,.77],[31.2,.7],[31.7,.74],[31.2,.78],[30.2,.87],[30.9,.8],[31.2,.62],[31.7,.65],[28.7,.68],[29.2,.7],[29.7,.57],[30.5,.57],[30.3,.52],[29.7,.5],[28.4,.58],[28.7,.56],[29,.53],[29.1,.55],[28.1,.5],[28.5,.47],[28.9,.47],[29.5,.47],[27.1,.44],[28.6,.37],[28.3,.4],[27.9,.38],[30.2,.4],[30.1,.38],[29.3,.41],[29.8,.43],[28.8,.35],[28.7,.37],[26.4,.29],[26.6,.3],[26.8,.28],[27.5,.3],[27.8,.3],[27.1,.26],[27.6,.27],[28.1,.23],[28.3,.25],[27.2,.24],[23.7,.37],[25.1,.25],[25.3,.2],[25.5,.2],[25.7,.17],[25.5,.15],[25.7,.12],[26.2,.19],[26.5,.23],[26.9,.22],[24.7,.22],[24.2,.2],[24.1,.2],[24,.15],[29.8,.04]]
let fS3 = [[33,3.03],[36.6,2.6],[31.4,2.41],[35.1,2.23],[33.2,1.94],[36.1,1.94],[34.2,1.92],[33.7,1.88],[33.6,1.82],[31.9,1.77],[29.8,1.73],[29.8,1.71],[34,1.66],[31.9,1.67],[32.3,1.6],[29.3,1.6],[31.6,1.65],[31.2,1.56],[24,1.63],[30.4,1.47],[30.3,1.45],[30.8,1.47],[30.9,1.38],[31.3,1.38],[31.5,1.38],[31.8,1.33],[33.2,1.37],[29.3,1.3],[29.7,1.27],[31.1,1.28],[32.2,1.28],[27.4,1.3],[30,1.15],[29.6,1.15],[29.1,1.14],[30.3,1.12],[32.4,1.15],[32.7,1.15],[31.4,1.2],[30.7,1.18],[29.8,1.07],[29.4,1.07],[31.6,1.08],[32.4,1.05],[26.7,.98],[33.3,1],[32.5,.98],[30.1,1],[31.3,1],[28,.98],[28.3,.95],[30.7,.92],[31.1,.97],[29,.9],[30.4,.87],[28.5,.8],[27.6,.8],[27.5,.75],[28.1,.84],[25,.8],[25,.73],[25,.67],[26.9,.75],[27.5,.7],[27.8,.68],[28.9,.73],[29.2,.65],[32.4,.75],[26.1,.6],[26.6,.65],[27.1,.6],[27,.61],[28.7,.61],[29.2,.6],[24.1,.5],[24,.62],[25.7,.5],[26.1,.52],[26.6,.48],[26.8,.4],[27.5,.5],[27.7,.55],[24.1,.45],[24.7,.38],[24.8,.35],[24,.55],[23,.43],[26.8,.23],[27.2,.2],[31,.36],[31.6,.48]]
let fS4 = [[33.2,2.3],[33.3,2.2],[36,2.23],[36.6,2.2],[31,2.19],[34.3,2.16],[34.8,2.17],[27.8,2.13],[28.1,2.11],[30.6,2.05],[30.6,2.02],[29.2,2.04],[31.2,2.04],[31.9,2.08],[32.5,1.97],[33.9,1.94],[31,1.92],[30.2,1.9],[31.6,1.89],[31.8,1.85],[31.4,1.86],[35.4,1.88],[29.5,1.8],[30.3,1.76],[26.7,1.73],[27.7,1.73],[33.2,1.72],[28.6,1.62],[32.3,1.66],[32.2,1.6],[31,1.53],[31.5,1.52],[31.4,1.5],[29,1.53],[29.2,1.55],[28.9,1.5],[30.7,1.49],[32,1.48],[32.2,1.5],[23.6,1.43],[26.3,1.38],[26.4,1.36],[29,1.42],[29.4,1.38],[29.1,1.38],[30.3,1.37],[30.7,1.33],[32.3,1.38],[32.3,1.33],[35,1.44],[34.9,1.4],[35.7,1.38],[34.1,1.38],[34.2,1.33],[26.5,1.26],[28.2,1.3],[29.4,1.3],[29.9,1.33],[29.2,1.28],[31.4,1.25],[36.1,1.28],[34.8,1.27],[34.9,1.27],[27.1,1.27],[27.5,1.2],[27.4,1.17],[28.6,1.2],[28.9,1.22],[30,1.22],[30.7,1.17],[31.7,1.2],[32,1.2],[25,1.17],[25.5,1.16],[28.1,1.09],[29.3,1.02],[29.6,1.05],[29.9,1.02],[31,1.05],[31.2,1.07],[32.5,1.1],[25,1.03],[25.4,1],[26.3,1.03],[27.2,1.07],[27.7,1.08],[28.4,1],[28.7,1.01],[29,.97],[29.9,.97],[30.2,1.05],[30.5,.97],[33.6,1.05],[34.2,.98],[36.1,1.05],[35.6,1.03],[36.9,1],[26.5,.93],[23.7,.94],[26,.87],[26.2,.86],[27.2,.9],[27.7,.93],[28.1,.9],[29.1,.85],[29.5,.87],[30,.88],[30.3,.9],[30.7,.87],[32.2,.85],[35.6,.95],[25.4,.87],[27,.85],[27.6,.82],[28,.82],[28.6,.8],[30.5,.8],[34.1,.87],[34.2,.72],[36.5,.76],[25.5,.7],[25.8,.75],[26.2,.75],[26.5,.72],[27.2,.78],[27.8,.72],[28.2,.72],[28.8,.7],[29.5,.73],[29.9,.7],[30.4,.75],[25.6,.7],[26.1,.7],[26.8,.65],[27.4,.65],[28.3,.65],[29.2,.7],[29.6,.62],[30.8,.63],[31.3,.6],[31.7,.69],[23,.72],[26.5,.6],[27.2,.6],[28.3,.55],[29.5,.55],[30.1,.6],[30.7,.55],[32,.48],[28.1,.47],[25.4,.45],[25,.45],[24.5,.45],[24.7,.37],[27,.33],[27.8,.38],[28.9,.5],[29.3,.45],[30.4,.47],[30.9,.13],[28.6,.08]]

// panel g
let gS1 = [[19.1,3.59],[24,2.97],[16,2.7],[14.5,2.55],[16.3,2.5],[13.7,2.25],[14.7,2.23],[16.3,2.28],[10.4,1.95],[10.8,1.95],[8.5,1.74],[8.5,1.68],[14.1,1.9],[16.9,1.78],[15.3,1.63],[18.4,1.62],[14.7,1.63],[10.5,1.75],[11.1,1.65],[11.4,1.62],[11.6,1.55],[13.5,1.55],[12.4,1.55],[9.9,1.52],[10.2,1.45],[12.2,1.38],[12.8,1.38],[11.5,1.35],[12.6,1.27],[12.9,1.28],[13.8,1.17],[14.5,1.1],[12.7,1.02],[13.6,1.05],[14,1.05],[10,1.05],[10.4,1.05],[10.7,1],[11.2,1.25],[11.6,1.15],[11,1.2],[8.5,.93],[9.2,.93],[9.1,.85],[10.8,.97],[11.2,.95],[11.5,1],[10.4,.8],[10.5,.75],[9,.8],[9.1,.75],[9.3,.67],[12,.75],[14.2,.73],[11.3,.69],[11.6,.63],[10.3,.63],[7.4,.7],[7.9,.7],[7.9,.63],[7.8,.66],[8,.48],[7,.58],[7,.5],[6.4,.38],[5.2,.43],[6.4,.3],[11,.42]]
let gS2 = [[17,4.96],[21.3,4.25],[16.4,3.75],[18.3,3.37],[10.5,3.14],[17.3,2.5],[15.6,2.45],[15,2.58],[15.3,2.2],[16,2.23],[13.1,2.2],[11.7,2.1],[15.9,2],[15.3,2.13],[17.6,1.95],[18.5,2.02],[12.9,2],[14.6,1.78],[15.1,1.8],[15.6,1.5],[14.7,1.6],[13.3,1.6],[9.6,1.55],[17.8,1.2],[12.7,1.5],[12.6,1.45],[12.6,1.38],[13.1,1.33],[12.5,1.28],[12.7,1.13],[11.6,1.2],[11.7,1.07],[11.4,1.05],[11.9,1],[12,.95],[12.1,.93],[11.4,.9],[11.6,.88],[12,.85],[10.4,1],[9.9,.98],[9.9,.93],[10.3,.9],[10.8,.9],[10.1,.85],[9.7,.8],[10.4,.8],[9.6,.76],[9.9,.75],[10.1,.76],[10.5,.72],[8.9,.75],[9,.7],[9.1,.67],[10,.65],[8.3,.62],[8.4,.57],[8.6,.62],[8.8,.6],[6.7,.58],[6.7,.55],[7.5,.6],[5.8,.48],[6.6,.47],[6.8,.47],[7.8,.46],[8.4,.46],[7.6,.44],[7.4,.42],[5.7,.42],[5.2,.43],[6.1,.37],[6.7,.42],[6.6,.38],[7.5,.35],[5.8,.35],[5.7,.28],[5.8,.3],[6.4,.28],[6.6,.3],[6.9,.3],[6.7,.27],[6.3,.22],[9.5,.4],[15.4,.4]]
let gS3 = [[18.3,3.58],[16.1,3.15],[16.2,3.1],[15,2.94],[17.6,2.8],[15.2,2.77],[14.5,2.55],[14.7,2.58],[13.8,2.55],[14.3,2.33],[12.7,2.33],[13.8,2.2],[20.1,2.42],[12.2,2.17],[12.1,2.1],[11.3,2.1],[10.8,2.06],[10.9,2.07],[12.7,2.02],[12.2,1.95],[10.4,1.85],[11.2,1.9],[15.2,1.9],[12.6,1.9],[11.2,1.75],[11.7,1.75],[11.4,1.62],[9.5,1.63],[8.9,1.68],[13,1.6],[9.3,1.42],[9.3,1.38],[9.4,1.42],[9.9,1.43],[9.1,1.35],[7.7,1.37],[8,1.38],[8.3,1.35],[8.6,1.33],[8.8,1.37],[8.9,1.3],[9.8,1.27],[7.5,1.22],[7.4,1.15],[8,1.2],[8.1,1.17],[8.5,1.25],[7,1.1],[7.2,1.05],[7.8,1.05],[8.2,1.03],[6.8,.97],[7,.95],[7.6,.95],[10.3,1.08],[10.2,1.05],[6.5,.9],[6.7,.85],[6.9,.85],[7.3,.9],[7.8,.85],[5.4,.85],[5.3,.8],[5.6,.77],[5.2,.7],[5.5,.7],[6.1,.8],[6.2,.85],[6.4,.9],[6.4,.78],[7.2,.8],[6,.65],[6.1,.65],[4.5,.62],[5.2,.58],[5.4,.65],[4.8,.6],[4.9,.62],[6.5,.63],[6.9,.67]]
let gS4 = [[14,2.87],[14.2,2.85],[13.4,2.78],[15.6,2.8],[14.8,2.85],[14.5,2.74],[16.7,2.72],[15.9,2.68],[13.9,2.55],[13.7,2.52],[15.1,2.55],[14.8,2.55],[16.1,2.55],[16,2.53],[16.2,2.5],[16.6,2.55],[13.1,2.4],[13.6,2.4],[13.7,2.42],[15.4,2.4],[15.8,2.4],[15.9,2.43],[16.9,2.43],[17.3,2.42],[17.6,2.38],[19,2.5],[14.2,2.3],[14.2,2.2],[15.6,2.2],[14.9,2.1],[15.2,2.15],[15.4,2.2],[13.3,2.2],[13,2.2],[13.4,2.17],[14,2.2],[14.3,2.2],[16.4,2.2],[16.9,2.15],[14.4,2.05],[14.7,2.03],[15,2.1],[15.4,2],[15.7,2.05],[16.4,2],[16.2,1.9],[17.5,1.93],[19.7,2.1],[10.9,2.18],[12,2.03],[13.8,2.05],[14,1.97],[14.2,1.92],[16.6,1.85],[16.6,1.8],[16.4,1.7],[15.2,1.55],[16.1,1.53],[14.3,1.8],[14.1,1.75],[14.3,1.42],[13.8,1.32],[10.9,1.98],[11.1,1.97],[11.6,1.9],[11.8,1.85],[12.2,1.85],[12.6,1.9],[12.8,1.9],[13.4,1.8],[13.1,1.75],[12.8,1.75],[12.3,1.7],[12.6,1.7],[12,1.65],[11.6,1.6],[11.2,1.6],[11,1.62],[10.7,1.6],[10.4,1.62],[10,1.78],[10.6,1.75],[11,1.7],[11.4,1.7],[8.3,1.6],[8.9,1.65],[9.1,1.6],[9.5,1.48],[9.9,1.55],[10.2,1.5],[10.5,1.52],[10.9,1.48],[11.3,1.45],[11.6,1.42],[11.9,1.4],[12.3,1.42],[12.7,1.55],[8.5,1.3],[8.9,1.22],[9.2,1.25],[9.5,1.25],[10,1.28],[10.4,1.3],[10.6,1.28],[11,1.3],[11.4,1.35],[11.8,1.32],[12,1.25],[10.3,1.15],[10.7,1.17],[11,1.15],[11.4,1.2],[11.8,1.18],[8.1,1.1],[8.5,1.12],[8.8,1.1],[9.1,1.12],[9.6,1.12],[9.8,1.18],[7.1,1.05],[7.5,1],[7.9,1],[8.2,.97],[8.6,.95],[9.1,.95],[7.3,.88],[7.5,.8],[8.1,.82],[8.1,.78],[9,.9],[6.1,.98],[6.5,.72],[14.4,.87],[10.6,.42]]

// panel h
let hS1 = [[30.1,2.97],[32.7,3.59],[35.1,2.7],[28.9,2.5],[33.1,2.5],[33.7,2.33],[33.7,2.25],[29.9,2.28],[28.8,2.23],[32.1,2.23],[33,2],[33.8,1.95],[30.3,2.05],[31.1,2],[32,1.95],[32.6,1.78],[34.1,1.74],[30,1.8],[27.2,1.72],[24.7,1.78],[29.5,1.62],[29.8,1.63],[34.8,1.65],[35.2,1.68],[31.5,1.65],[31.7,1.65],[32,1.62],[31.1,1.55],[21.7,1.55],[33.1,1.37],[34.1,1.55],[29.8,1.5],[28.5,1.4],[30.1,1.45],[29,1.32],[29.3,1.32],[30.7,1.35],[26.4,1.18],[28.7,1.3],[22.8,1.15],[30.1,1.12],[31.6,.98],[25,1.13],[26,1],[28.2,.95],[28.6,.98],[29.5,1.03],[27.3,.95],[22.1,.9],[23.5,.78],[23.8,.8],[29.5,.8],[29.7,.78],[22.8,.73],[27,.65],[26.5,.75],[26.6,.62],[25.7,.65],[25.5,.7],[25.9,.75],[25.1,.6],[31,.7],[31.1,.62],[29.5,.68],[27.3,.65],[27.7,.6],[24.1,.67],[24.9,.6],[23.4,.45],[23.8,.48],[25.4,.5],[26.2,.45],[23,.38],[27.7,.45],[27.2,.26]]
let hS2 = [[34.3,4.96],[35.7,4.25],[36.6,3.75],[35.3,3.37],[36.1,3.14],[32.9,2.45],[32,2.58],[32.3,2.45],[31.1,2.15],[30.4,2.03],[29.3,2.1],[30.8,2.02],[32.3,2],[32.2,1.9],[31.2,1.7],[31.6,1.5],[29.8,1.5],[30.2,1.4],[31.6,1.25],[31,1.2],[30.9,1.15],[29.3,1],[29.7,.95],[30.1,.9],[30.3,.95],[30.6,.92],[29.7,.85],[30.2,.85],[30.1,.8],[29.9,.78],[28.4,.95],[28.6,.9],[28.9,.9],[29,.85],[28.7,.8],[28.2,.75],[28.5,.72],[27.9,.65],[29.2,.72],[29.5,.75],[28.8,.68],[28.6,.65],[28.9,.62],[27.4,.65],[27.8,.6],[27.2,.62],[30.2,.65],[29.4,.55],[28.6,.55],[26.4,.6],[27.2,.45],[27.8,.47],[27.6,.45],[26.7,.47],[26.9,.45],[26.5,.45],[25.3,.48],[25.4,.5],[28.1,.42],[29,.47],[28.7,.42],[27.4,.4],[27.6,.4],[27.2,.38],[25.3,.35],[25.6,.35],[25.8,.33],[25.9,.32],[25.4,.3],[25.5,.26],[26.2,.3],[26.5,.33],[26.8,.36],[24.2,.3],[24.1,.28],[24.7,.3],[23.7,.4],[24,.2],[29.8,.4]]
let hS3 = [[33,3.59],[36.1,3.15],[36.6,3.12],[35.1,2.94],[34.2,2.77],[33.6,2.58],[33.7,2.55],[33.2,2.55],[31.4,2.78],[29.3,2.43],[32,2.33],[34,2.2],[31.5,2.18],[31,2.18],[29.6,2.18],[32.4,2.15],[31.9,2.1],[30.3,1.9],[33.3,2],[33.7,1.97],[24,1.9],[31.4,1.9],[30.8,1.85],[28.7,1.85],[29.3,1.88],[31.7,1.85],[32.4,1.75],[31.1,1.75],[31.6,1.62],[32.5,1.62],[33.2,1.72],[27.4,1.59],[31,1.6],[31.5,1.55],[26.7,1.43],[31.6,1.38],[31.7,1.35],[32.4,1.4],[33.3,1.33],[31.1,1.38],[30.2,1.2],[30.6,1.25],[30.9,1.2],[27.4,1.3],[28.8,1.33],[29.6,1.35],[28,1.25],[30,1.2],[31.1,1.1],[25,1.1],[26.8,1.2],[27.2,1.05],[27.6,1],[28.3,1],[28.7,1],[29,.97],[29.2,.95],[24.9,.9],[25,.9],[26.4,.92],[26.5,.85],[27.5,.9],[27.7,.85],[28.2,.85],[28.9,.85],[25.3,.85],[24.2,.8],[24.6,.7],[26.2,.75],[26.6,.7],[27,.8],[27.3,.78],[28.5,.75],[28.9,.72],[26.5,.62],[26.7,.65],[25,.68],[24.9,.63],[24.6,.6],[24.1,.65],[23.6,.78],[23,.6],[24.7,.58]]
let hS4 = [[27.8,2.72],[31.4,2.7],[30.9,2.73],[30.3,2.55],[30.4,2.5],[29.1,2.45],[29.6,2.5],[29.2,2.55],[28.6,2.3],[28.9,2.3],[26.7,2.5],[33.2,2.72],[34.3,2.73],[34.8,2.75],[33.8,2.65],[33.3,2.55],[35,2.5],[35.7,2.4],[36.5,2.45],[35.3,2.38],[36,2.75],[32.3,2.65],[32,2.5],[32.6,2.55],[31.6,2.45],[31.7,2.45],[31.2,2.55],[30.6,2.42],[27.7,2.25],[28.1,2.28],[25.4,2.1],[26.4,1.98],[30,2.25],[30.5,2.2],[31,2.25],[31.5,2.3],[32.5,2.3],[32.2,2.15],[32,2.15],[34.1,2.15],[34.2,2.1],[35,2.22],[35.1,2.15],[36.1,2.2],[36.9,2.18],[24.9,1.9],[25,1.8],[27.3,1.8],[28.3,2],[29.3,1.9],[29.6,1.95],[30,2],[30.4,2],[30.6,2.05],[31.3,2],[31.8,2.05],[32.7,2.15],[33.2,1.97],[33.7,2.05],[34.1,1.95],[28.1,1.6],[28.5,1.7],[28.8,1.75],[29.1,1.8],[29.4,1.75],[30.5,1.75],[31,1.85],[31.5,1.9],[32.2,1.85],[32.7,1.85],[33.4,1.73],[35.7,1.75],[34.8,1.6],[35.7,1.6],[36.1,1.62],[36.6,1.6],[25.4,1.55],[26.4,1.6],[26.5,1.55],[27.2,1.55],[25.3,1.38],[27,1.38],[27.3,1.35],[28,1.4],[28.3,1.4],[28.9,1.6],[29.2,1.5],[29.7,1.5],[30.3,1.6],[30.7,1.6],[31,1.7],[31.8,1.7],[32.3,1.55],[26.1,1.2],[25.5,1.25],[26.3,1.2],[27.1,1.35],[27.6,1.38],[28.6,1.35],[29.3,1.32],[29.9,1.4],[30.5,1.4],[30.9,1.45],[23.6,1.12],[24.5,.98],[24.9,1.07],[25.5,1.1],[25.9,1.1],[26.3,1.05],[26.8,1.05],[27.1,1.1],[27.5,1.1],[28,1.15],[28.2,1.2],[29.2,1.15],[29.5,1.1],[30.2,1.1],[30.7,1.1],[23,.9],[25.4,.9],[25.9,.85],[26,.95],[26.7,.92],[27.1,.9],[27.8,.95],[28.3,.98],[28.6,1.1],[29.3,1],[25,.8],[26.4,.85],[27.7,.75],[32,.98],[31,.85],[28.6,.42],[24.7,.7]]

// one row per panel
let panels = [
  {id:"(a)",title:"CHEST INSIDE ORGANS DOSE (mSv)",xt:"SSDE(mGy)",dom:[0,25],xr:[74,811],yr:[554.7,55.9],ymax:15,yt:[0,5,10,15],ym:[2.5,7.5,12.5],xn:xNodesS,line:aLine,up:aUp,low:aLow,pts:[aS1,aS2,aS3,aS4],box:[766.6,0.5,137.4,92.5],rows:[13,36,58,81],mx:790,tx:817,yx:15,ytLen:451,ytC:305,xtx:435,xty:617,lx:64,ly:611,w:2.6},
  {id:"(b)",title:"CHEST INSIDE ORGANS DOSE (mSv)",xt:"d(cm)",dom:[20,40],xr:[1058.7,1795],yr:[554.7,55.9],ymax:15,yt:[0,5,10,15],ym:[2.5,7.5,12.5],xn:xNodesD,line:bLine,up:bUp,low:bLow,pts:[bS1,bS2,bS3,bS4],box:[1725,29,136,94],rows:[42,65,88,110.6],mx:1748.7,tx:1775,yx:998,ytLen:451,ytC:305,xtx:1426,xty:619,lx:1035,ly:617,w:2.6},
  {id:"(c)",title:"CHEST PERIPHERY ORGANS DOSE (mSv)",xt:"SSDE(mGy)",dom:[0,25],xr:[74,811],yr:[1166,667.8],ymax:15,yt:[0,5,10,15],ym:[2.5,7.5,12.5],xn:xNodesS,line:cLine,up:cUp,low:cLow,pts:[cS1,cS2,cS3,cS4],box:[768,620,137.5,94.6],rows:[633.5,656,679,702],mx:792,tx:819,yx:15,ytLen:513,ytC:917.5,xtx:427.5,xty:1227,lx:49,ly:1214,w:3.6},
  {id:"(d)",title:"CHEST PERIPHERY ORGANS DOSE (mSv)",xt:"d(cm)",dom:[20,40],xr:[1058.7,1795],yr:[1166,667.8],ymax:15,yt:[0,5,10,15],ym:[2.5,7.5,12.5],xn:xNodesD,line:dLine,up:dUp,low:dLow,pts:[dS1,dS2,dS3,dS4],box:[1703,634,137,95],rows:[648,671,694,717],mx:1727,tx:1753,yx:998,ytLen:513,ytC:917.5,xtx:1426,xty:1231,lx:1035,ly:1226,w:3.6},
  {id:"(e)",title:"CHEST OUTSIDE ORGANS DOSE (mSv)",xt:"SSDE(mGy)",dom:[0,25],xr:[74,811],yr:[1778.7,1280],ymax:4,yt:[0,1,2,3,4],ym:[.5,1.5,2.5,3.5],xn:xNodesS,line:eLine,up:eUp,low:eLow,pts:[eS1,eS2,eS3,eS4],box:[763.6,1243,136.4,95],rows:[1257,1280,1302.4,1325],mx:787,tx:814,yx:25.5,ytLen:479,ytC:1529,xtx:435,xty:1834,lx:58,ly:1831,w:2.6},
  {id:"(f)",title:"CHEST OUTSIDE ORGANS DOSE (mSv)",xt:"d(cm)",dom:[20,40],xr:[1058.7,1796],yr:[1778.7,1280],ymax:4,yt:[0,1,2,3,4],ym:[.5,1.5,2.5,3.5],xn:xNodesD,line:fLine,up:fUp,low:fLow,pts:[fS1,fS2,fS3,fS4],box:[1710.7,1260,137.3,94],rows:[1273,1296,1319,1342],mx:1735,tx:1761,yx:1008,ytLen:479,ytC:1529,xtx:1426,xty:1843,lx:1039,ly:1843,w:2.6,extra:.337},
  {id:"(g)",title:"CHEST DISTRIBUTED ORGANS DOSE (mSv)",xt:"SSDE(mGy)",dom:[0,25],xr:[74,811],yr:[2390,1891],ymax:6,yt:[0,2,4,6],ym:[1,3,5],xn:xNodesS,line:gLine,up:gUp,low:gLow,pts:[gS1,gS2,gS3,gS4],box:[708,1849,136.4,93],rows:[1862,1884.5,1907,1930],mx:731.5,tx:758,yx:25.5,ytLen:536,ytC:2140,xtx:427.5,xty:2449,lx:41.6,ly:2449,w:3.6},
  {id:"(h)",title:"CHEST DISTRIBUTED ORGANS DOSE (mSv)",xt:"d(cm)",dom:[20,40],xr:[1058.7,1796],yr:[2390,1891],ymax:6,yt:[0,2,4,6],ym:[1,3,5],xn:xNodesD,line:hLine,up:hUp,low:hLow,pts:[hS1,hS2,hS3,hS4],box:[1689,1853,137,94],rows:[1866,1889,1912,1935],mx:1713,tx:1740,yx:1008,ytLen:536,ytC:2140,xtx:1426,xty:2454,lx:1026,ly:2461,w:3.6}
]

let svg = d3.select("svg").attr("width",1862).attr("height",2480)

// sphere look of the markers
let defs = svg.append("defs")
scannerColors.forEach((c,i) => {
  let g = defs.append("radialGradient").attr("id","ball"+i).attr("cx","50%").attr("cy","50%").attr("r","50%").attr("fx","42%").attr("fy","26%")
  g.append("stop").attr("offset","0%").attr("stop-color","#fff")
  g.append("stop").attr("offset","20%").attr("stop-color",c[0])
  g.append("stop").attr("offset","50%").attr("stop-color",c[1])
  g.append("stop").attr("offset","100%").attr("stop-color",c[1])
})

let drawPanel = (p) => {
  let g = svg.append("g")
  let x = d3.scaleLinear().domain(p.dom).range(p.xr)
  let y = d3.scaleLinear().domain([0,p.ymax]).range(p.yr)
  let first = p.xn[0], last = p.xn[p.xn.length-1]

  // faint outline left under the band
  let base = p.low[0]
  let outline = d3.line().x(d => x(d[0])).y(d => y(d[1]))
  g.append("path").attr("d",outline([[first,base],[last,base],[last,p.low[p.low.length-1]]]))
    .attr("fill","none").attr("stroke","#d3e1ea").attr("stroke-width",1.5)
  if (p.extra) {
    g.append("path").attr("d",outline([[first,p.extra],[last,p.extra]]))
      .attr("fill","none").attr("stroke","#d3e1ea").attr("stroke-width",1.5)
  }

  // band
  let area = d3.area().x((d,i) => x(p.xn[i])).y0((d,i) => y(p.low[i])).y1(d => y(d)).curve(d3.curveMonotoneX)
  g.append("path").attr("d",area(p.up)).attr("fill","#c0d5ea")
  let edge = d3.line().x((d,i) => x(p.xn[i])).y(d => y(d)).curve(d3.curveMonotoneX)
  g.append("path").attr("d",edge(p.up)).attr("fill","none").attr("stroke","#b6e4ee").attr("stroke-width",1.6)
  g.append("path").attr("d",edge(p.low)).attr("fill","none").attr("stroke","#b6e4ee").attr("stroke-width",1.6)

  // fit
  g.append("path").attr("d",edge(p.line)).attr("fill","none").attr("stroke","#ff00ff").attr("stroke-width",6.5).attr("stroke-linecap","square")

  // points
  p.pts.forEach((s,i) => {
    g.append("g").selectAll("circle").data(s).enter().append("circle")
      .attr("cx",d => x(d[0])).attr("cy",d => y(d[1])).attr("r",4.2)
      .attr("fill","url(#ball"+i+")")
  })

  // axes
  let xAxis = d3.axisBottom(x).tickValues(d3.range(p.dom[0],p.dom[1]+1,5)).tickSize(10).tickSizeOuter(0).tickFormat(d3.format("d"))
  let gx = g.append("g").attr("transform","translate(0,"+p.yr[0]+")").call(xAxis)
  let step = (p.dom[1]-p.dom[0])/10
  let xMinor = d3.axisBottom(x).tickValues(d3.range(p.dom[0]+step,p.dom[1],step*2)).tickSize(6).tickSizeOuter(0).tickFormat("")
  let gxm = g.append("g").attr("transform","translate(0,"+p.yr[0]+")").call(xMinor)
  let yAxis = d3.axisLeft(y).tickValues(p.yt).tickSize(10).tickSizeOuter(0).tickFormat(d3.format("d"))
  let gy = g.append("g").attr("transform","translate("+p.xr[0]+",0)").call(yAxis)
  let yMinor = d3.axisLeft(y).tickValues(p.ym).tickSize(6).tickSizeOuter(0).tickFormat("")
  let gym = g.append("g").attr("transform","translate("+p.xr[0]+",0)").call(yMinor)
  gx.selectAll("path,line").attr("stroke","#000").attr("stroke-width",p.w)
  gxm.selectAll("line").attr("stroke","#000").attr("stroke-width",2.2)
  gxm.select("path").remove()
  gy.selectAll("path,line").attr("stroke","#000").attr("stroke-width",2.4)
  gym.selectAll("line").attr("stroke","#000").attr("stroke-width",2.2)
  gym.select("path").remove()
  gx.selectAll("text").attr("font-size",21).attr("font-family","Liberation Sans").attr("y",17).attr("dy","0.71em")
  gy.selectAll("text").attr("font-size",21).attr("font-family","Liberation Sans").attr("x",-16)

  // titles
  g.append("text").attr("transform","translate("+p.yx+","+p.ytC+") rotate(-90)")
    .attr("text-anchor","middle").attr("dominant-baseline","central").attr("font-size",25.5)
    .attr("textLength",p.ytLen).attr("lengthAdjust","spacingAndGlyphs").text(p.title)
  g.append("text").attr("x",p.xtx).attr("y",p.xty).attr("text-anchor","middle").attr("dominant-baseline","central")
    .attr("font-size",26).text(p.xt)
  g.append("text").attr("x",p.lx).attr("y",p.ly).attr("text-anchor","middle").attr("dominant-baseline","central")
    .attr("font-size",31).style("font-family","Lato").text(p.id)

  // legend
  g.append("rect").attr("x",p.box[0]).attr("y",p.box[1]).attr("width",p.box[2]).attr("height",p.box[3])
    .attr("fill","#fff").attr("stroke","#000").attr("stroke-width",1.4)
  scanners.forEach((s,i) => {
    g.append("circle").attr("cx",p.mx).attr("cy",p.rows[i]).attr("r",4.2).attr("fill","url(#ball"+i+")")
    g.append("text").attr("x",p.tx).attr("y",p.rows[i]).attr("dominant-baseline","central").attr("font-size",18.5).text(s)
  })
}

panels.forEach(drawPanel)
</script>
</body>
</html>
